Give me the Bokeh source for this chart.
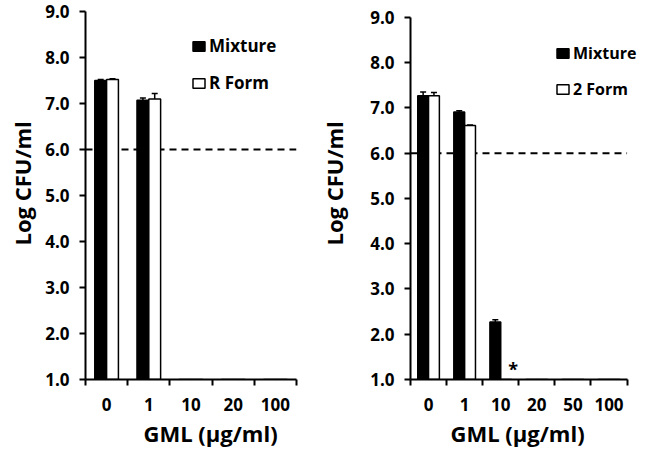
import numpy as np
from bokeh.plotting import figure
from bokeh.models import (Range1d, FixedTicker, Whisker, ColumnDataSource, Title,
                          Legend, LegendItem, Label, TeeHead, NumeralTickFormatter)
from bokeh.layouts import row
from bokeh.embed import file_html
from bokeh.resources import INLINE

# ---------------- data ----------------
left_cats = ["0", "1", "10", "20", "100"]
left_mix = [7.50, 7.07, 0.0, 0.0, 0.0]
left_mix_err = [0.02, 0.05, 0.0, 0.0, 0.0]
left_r = [7.52, 7.10, 0.0, 0.0, 0.0]
left_r_err = [0.02, 0.12, 0.0, 0.0, 0.0]

right_cats = ["0", "1", "10", "20", "50", "100"]
right_mix = [7.27, 6.91, 2.27, 0.0, 0.0, 0.0]
right_mix_err = [0.08, 0.03, 0.05, 0.0, 0.0, 0.0]
right_2 = [7.27, 6.61, 0.0, 0.0, 0.0, 0.0]
right_2_err = [0.07, 0.01, 0.0, 0.0, 0.0, 0.0]

sig_cat = "10"
sig_y = 1.23

threshold = 6.0
y_ticks = [1.0, 2.0, 3.0, 4.0, 5.0, 6.0, 7.0, 8.0, 9.0]
y_min, y_max = 1.0, 9.0

FONT = "Open Sans"


def make_panel(cats, s1, e1, s2, e2, name1, name2, frame_w, x_extra, y_extra,
               mb_left, mb_right, legend_loc, legend_fs, bar_w, off, ytitle_off,
               ytitle_gap, xtitle_off, sig=None):
    n = len(cats)
    p = figure(frame_width=frame_w, frame_height=368,
               x_range=Range1d(0, n + x_extra),
               y_range=Range1d(y_min, y_max + y_extra), output_backend="svg",
               toolbar_location=None, min_border_left=mb_left,
               min_border_right=mb_right, min_border_top=11,
               min_border_bottom=62)
    p.outline_line_color = None
    p.grid.visible = False

    centers = [i + 0.5 for i in range(n)]
    edges = [float(i) for i in range(n + 1)]

    xa = p.xaxis[0]
    xa.bounds = (0, n)
    xa.ticker = FixedTicker(ticks=centers, minor_ticks=edges)
    xa.major_label_overrides = {c: cat for c, cat in zip(centers, cats)}
    xa.major_tick_out = 0
    xa.major_tick_in = 0
    xa.minor_tick_out = 6
    xa.minor_tick_in = 0
    xa.minor_tick_line_color = "black"
    xa.minor_tick_line_width = 2
    xa.axis_line_width = 2
    xa.axis_line_color = "black"
    xa.major_label_text_font = FONT
    xa.major_label_text_font_style = "bold"
    xa.major_label_text_font_size = "17px"
    xa.major_label_text_color = "black"
    xa.major_label_standoff = 12

    ya = p.yaxis[0]
    ya.bounds = (y_min, y_max)
    ya.ticker = FixedTicker(ticks=y_ticks)
    ya.formatter = NumeralTickFormatter(format="0.0")
    ya.major_tick_out = 6
    ya.major_tick_in = 0
    ya.major_tick_line_width = 2
    ya.major_tick_line_color = "black"
    ya.minor_tick_out = 0
    ya.minor_tick_in = 0
    ya.axis_line_width = 2
    ya.axis_line_color = "black"
    ya.major_label_text_font = FONT
    ya.major_label_text_font_style = "bold"
    ya.major_label_text_font_size = "17px"
    ya.major_label_text_color = "black"
    ya.major_label_standoff = 10

    idx = np.arange(n)
    x1 = idx + 0.5 - off
    x2 = idx + 0.5 + off
    src1 = ColumnDataSource(dict(x=x1, top=s1))
    src2 = ColumnDataSource(dict(x=x2, top=s2))

    # detection-limit reference line across the categories
    p.segment(x0=[0], x1=[n], y0=[threshold], y1=[threshold], line_color="black",
              line_width=2, line_dash="7 5")

    r1 = p.vbar(x="x", top="top", bottom=0, width=bar_w, fill_color="black",
                line_color="black", line_width=1.5, source=src1)
    r2 = p.vbar(x="x", top="top", bottom=0, width=bar_w, fill_color="white",
                line_color="black", line_width=1.5, source=src2)

    for xs, vals, errs in ((x1, s1, e1), (x2, s2, e2)):
        keep = [i for i in range(n) if vals[i] > y_min]
        wsrc = ColumnDataSource(dict(
            base=[xs[i] for i in keep],
            upper=[vals[i] + errs[i] for i in keep],
            lower=[vals[i] - errs[i] for i in keep]))
        w = Whisker(source=wsrc, base="base", upper="upper", lower="lower",
                    line_color="black", line_width=1.5,
                    upper_head=TeeHead(size=6, line_width=1.5, line_color="black"),
                    lower_head=TeeHead(size=6, line_width=1.5, line_color="black"))
        p.add_layout(w)

    legend = Legend(items=[LegendItem(label=name1, renderers=[r1]),
                           LegendItem(label=name2, renderers=[r2])],
                    location=legend_loc, orientation="vertical",
                    border_line_color=None, background_fill_alpha=0,
                    padding=0, margin=0, spacing=14, glyph_width=15,
                    glyph_height=12, label_height=20, label_standoff=3,
                    label_text_font=FONT, label_text_font_style="bold",
                    label_text_font_size=legend_fs, label_text_color="black")
    p.add_layout(legend)

    if sig is not None:
        sc, sy = sig
        si = cats.index(sc)
        p.add_layout(Label(x=si + 0.5 + off, y=sy, x_offset=7, text="*",
                           text_align="center", text_baseline="middle",
                           text_font=FONT, text_font_style="bold",
                           text_font_size="18px", text_color="black"))

    p.add_layout(Title(text="Log CFU/ml", align="left", offset=ytitle_off,
                       vertical_align="top", standoff=ytitle_gap,
                       text_font=FONT, text_font_style="bold",
                       text_font_size="22px", text_color="black"), "left")
    p.add_layout(Title(text="GML (µg/ml)", align="left", offset=xtitle_off,
                       vertical_align="middle", standoff=6,
                       text_font=FONT, text_font_style="bold",
                       text_font_size="22px", text_color="black"), "below")
    return p


p1 = make_panel(left_cats, left_mix, left_mix_err, left_r, left_r_err,
                "Mixture", "R Form", frame_w=211, x_extra=0.0, y_extra=0.0,
                mb_left=85, mb_right=2, legend_loc=(106, 285), legend_fs="17px",
                bar_w=0.28, off=0.14, ytitle_off=134, ytitle_gap=7, xtitle_off=58)
p2 = make_panel(right_cats, right_mix, right_mix_err, right_2, right_2_err,
                "Mixture", "2 Form", frame_w=231, x_extra=0.4, y_extra=0.13,
                mb_left=112, mb_right=0, legend_loc=(145, 279), legend_fs="16px",
                bar_w=0.30, off=0.15, ytitle_off=134, ytitle_gap=34, xtitle_off=40,
                sig=(sig_cat, sig_y))

layout = row(p1, p2)
open("out.html", "w").write(file_html(layout, INLINE))
